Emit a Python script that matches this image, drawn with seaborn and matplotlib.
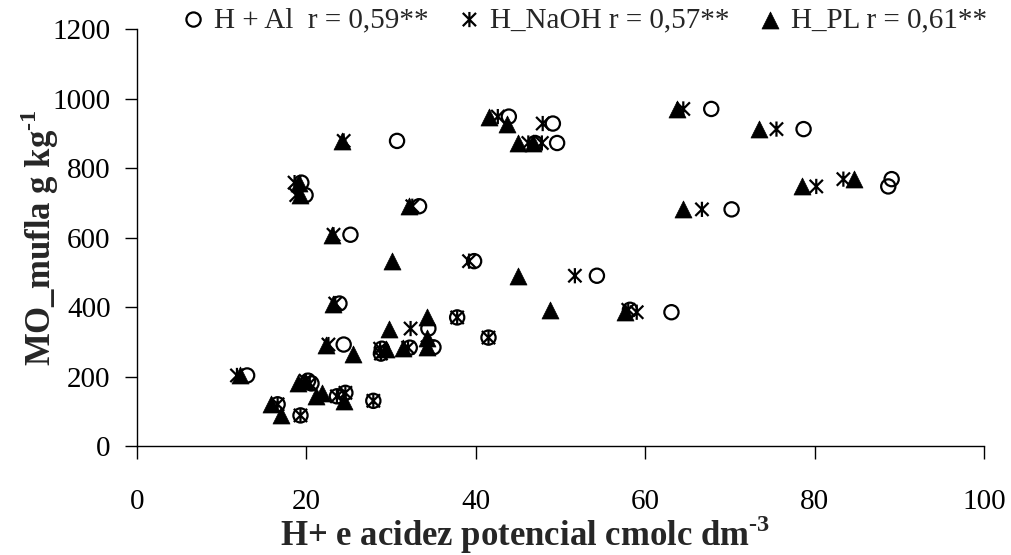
import numpy as np
import pandas as pd
import matplotlib
matplotlib.use("Agg")
import matplotlib.pyplot as plt
from matplotlib.path import Path
import seaborn as sns

# Organic matter (muffle furnace) for each soil sample, g kg-1
mo_mufla = [970, 948, 928, 912, 872, 872, 878, 758, 722, 768,
            747, 690, 681, 608, 532, 490, 410, 392, 385, 370,
            338, 312, 292, 266, 280, 283, 284, 203, 180, 188,
            153, 143, 120, 130, 88]
# Potential acidity by each extraction method, cmolc dm-3
h_al = [67.8, 43.9, 49.1, 78.7, 49.6, 47.0, 30.7, 19.4, 19.9, 89.1,
        88.7, 33.3, 70.2, 25.2, 39.8, 54.3, 23.9, 58.2, 63.1, 37.8,
        34.4, 41.5, 24.4, 28.8, 28.9, 32.2, 35.0, 13.0, 20.6, 20.2,
        24.6, 23.6, 16.6, 27.9, 19.3]
h_naoh = [64.5, 42.6, 47.9, 75.5, 46.2, 47.8, 24.4, 18.6, 18.8, 83.4,
          80.2, 32.5, 66.7, 23.2, 39.2, 51.7, 23.4, 58.0, 59.0, 37.8,
          32.3, 41.5, 22.6, 28.8, 28.7, 32.0, 34.3, 11.8, 20.4, 19.9,
          24.6, 23.6, 16.6, 27.9, 19.3]
h_pl = [63.7, 41.6, 43.7, 73.4, 45.0, 46.8, 24.2, 19.1, 19.3, 84.6,
        78.5, 32.1, 64.5, 23.0, 30.1, 45.0, 23.1, 48.8, 57.6, 34.2,
        29.8, 34.2, 22.3, 25.5, 29.4, 31.4, 34.2, 12.2, 19.0, 19.8,
        21.8, 21.1, 15.8, 24.4, 17.0]

series_labels = ["H + Al  r = 0,59**", "H_NaOH r = 0,57**", "H_PL r = 0,61**"]
x_ticks = [0, 20, 40, 60, 80, 100]
y_ticks = [0, 200, 400, 600, 800, 1000, 1200]

df = pd.DataFrame({"mo": mo_mufla, "al": h_al, "naoh": h_naoh, "pl": h_pl})

sns.set_style("ticks")
plt.rcParams["font.family"] = ["Liberation Serif", "DejaVu Serif"]
plt.rcParams["mathtext.fontset"] = "custom"
plt.rcParams["mathtext.rm"] = "Liberation Serif"
plt.rcParams["mathtext.bf"] = "Liberation Serif:bold"

# asterisk-like marker: an X crossed by a vertical bar
star_path = Path(
    [(-1, -1), (1, 1), (-1, 1), (1, -1), (0, -1.15), (0, 1.15)],
    [Path.MOVETO, Path.LINETO, Path.MOVETO, Path.LINETO, Path.MOVETO, Path.LINETO],
)

fig = plt.figure(figsize=(10.12, 5.55), dpi=100)
ax = fig.add_axes([0.1354, 0.1964, 0.8369, 0.7513])

sns.scatterplot(data=df, x="al", y="mo", ax=ax, marker="o", s=105,
                facecolor="none", edgecolor="black", linewidth=1.6,
                label=series_labels[0], zorder=3)
sns.scatterplot(data=df, x="naoh", y="mo", ax=ax, marker=star_path, s=120,
                facecolor="none", edgecolor="black", linewidth=1.6,
                label=series_labels[1], zorder=4)
sns.scatterplot(data=df, x="pl", y="mo", ax=ax, marker="^", s=150,
                color="black", edgecolor="black", linewidth=0.5,
                label=series_labels[2], zorder=5)

ax.set_xlim(0, 100)
ax.set_ylim(0, 1200)
ax.set_xticks(x_ticks)
ax.set_yticks(y_ticks)
ax.set_xticklabels([str(v) for v in x_ticks])
ax.set_yticklabels([str(v) for v in y_ticks])
sns.despine(ax=ax)
for sp in ("left", "bottom"):
    ax.spines[sp].set_color("black")
    ax.spines[sp].set_linewidth(1.0)
ax.tick_params(axis="both", direction="out", length=9, width=1.0,
               color="black", labelsize=21, labelcolor="black")
ax.tick_params(axis="x", pad=22)
ax.tick_params(axis="y", pad=10)

ax.set_xlabel("H+ e acidez potencial cmolc dm$^{\\mathbf{\u2010}\\mathbf{3}}$",
              fontsize=25, fontweight="bold")
ax.set_ylabel("MO_mufla g kg$^{\\mathbf{\u2010}\\mathbf{1}}$",
              fontsize=25, fontweight="bold")
ax.xaxis.label.set_va("center")
ax.yaxis.label.set_va("center")
ax.xaxis.set_label_coords(0.458, -0.213)
ax.yaxis.set_label_coords(-0.1145, 0.5)

handles, labels = ax.get_legend_handles_labels()
ax.get_legend().remove()
fig.legend(handles, labels, ncol=3, loc="center right",
           bbox_to_anchor=(0.975, 1 - 20 / 555), frameon=False, fontsize=21,
           handlelength=0.8, handletextpad=0.3, columnspacing=1.0,
           borderaxespad=0, borderpad=0)

fig.savefig("out.png", dpi=100, facecolor="white")
